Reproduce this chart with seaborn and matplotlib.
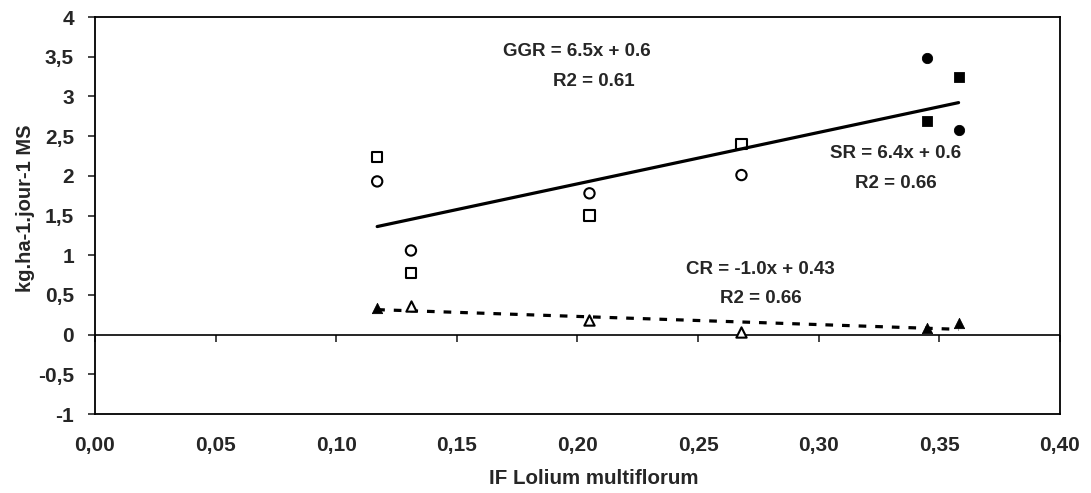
import numpy as np
import pandas as pd
import seaborn as sns
import matplotlib
matplotlib.use('Agg')
import matplotlib.pyplot as plt

sns.set_style("white")
plt.rcParams['font.family'] = ['Liberation Sans', 'DejaVu Sans']
plt.rcParams['font.weight'] = 'bold'

# points
sq_open_x = [0.117, 0.131, 0.205, 0.268]
sq_open_y = [2.24, 0.78, 1.50, 2.40]
circ_open_x = [0.117, 0.131, 0.205, 0.268]
circ_open_y = [1.93, 1.06, 1.78, 2.01]
sq_full_x = [0.345, 0.358]
sq_full_y = [2.69, 3.24]
circ_full_x = [0.345, 0.358]
circ_full_y = [3.48, 2.58]
tri_full_x = [0.117, 0.345, 0.358]
tri_full_y = [0.33, 0.09, 0.15]
tri_open_x = [0.131, 0.205, 0.268]
tri_open_y = [0.36, 0.19, 0.03]

xticks = [0.00, 0.05, 0.10, 0.15, 0.20, 0.25, 0.30, 0.35, 0.40]
xtick_labels = ['0,00', '0,05', '0,10', '0,15', '0,20', '0,25', '0,30', '0,35', '0,40']
yticks = [-1, -0.5, 0, 0.5, 1, 1.5, 2, 2.5, 3, 3.5, 4]
ytick_labels = ['-1', '-0,5', '0', '0,5', '1', '1,5', '2', '2,5', '3', '3,5', '4']

# equation texts: (text, x, y)
annotations = [
    ('GGR = 6.5x + 0.6', 0.1996, 3.57),
    ('R2 = 0.61', 0.207, 3.19),
    ('SR = 6.4x + 0.6', 0.332, 2.28),
    ('R2 = 0.66', 0.332, 1.90),
    ('CR = -1.0x + 0.43', 0.276, 0.82),
    ('R2 = 0.66', 0.276, 0.456),
]

fig = plt.figure(figsize=(10.91, 4.93), dpi=100)
ax = fig.add_axes([0.087, 0.160, 0.8845, 0.8055])

# regression lines
top = pd.DataFrame({'x': sq_open_x + circ_open_x + sq_full_x + circ_full_x,
                    'y': sq_open_y + circ_open_y + sq_full_y + circ_full_y})
low = pd.DataFrame({'x': tri_full_x + tri_open_x, 'y': tri_full_y + tri_open_y})
sns.regplot(data=top, x='x', y='y', scatter=False, ci=None, color='black',
            line_kws=dict(lw=2.3), ax=ax)
sns.regplot(data=low, x='x', y='y', scatter=False, ci=None, color='black',
            line_kws=dict(lw=2.3, ls=(0, (2.4, 2.8))), ax=ax)

ax.axhline(0, color='black', lw=1.2, zorder=1)

ms = 55
sns.scatterplot(x=sq_open_x, y=sq_open_y, marker='s', s=ms, fc='none', ec='black', linewidth=1.5, ax=ax, zorder=3)
sns.scatterplot(x=circ_open_x, y=circ_open_y, marker='o', s=ms, fc='none', ec='black', linewidth=1.5, ax=ax, zorder=3)
sns.scatterplot(x=sq_full_x, y=sq_full_y, marker='s', s=ms, color='black', ec='black', ax=ax, zorder=3)
sns.scatterplot(x=circ_full_x, y=circ_full_y, marker='o', s=ms, color='black', ec='black', ax=ax, zorder=3)
sns.scatterplot(x=tri_full_x, y=tri_full_y, marker='^', s=ms, color='black', ec='black', ax=ax, zorder=3)
sns.scatterplot(x=tri_open_x, y=tri_open_y, marker='^', s=ms, fc='white', ec='black', linewidth=1.5, ax=ax, zorder=3)

for txt, tx, ty in annotations:
    ax.text(tx, ty, txt, ha='center', va='center', fontsize=13.5, fontweight='bold')

ax.set_xlim(0, 0.40)
ax.set_ylim(-1, 4)
ax.set_yticks(yticks)
ax.set_yticklabels(ytick_labels)
ax.set_xticks(xticks)
ax.set_xticklabels(xtick_labels)
ax.tick_params(axis='x', length=0, pad=16, labelsize=15)
ax.tick_params(axis='y', direction='out', length=5, width=1.2, left=True, labelsize=15, pad=10)

# tick marks on the zero line
sec = ax.secondary_xaxis(0.2)
sec.set_xticks(xticks)
sec.tick_params(direction='out', length=5, width=1.2, labelbottom=False)
sec.spines['bottom'].set_visible(False)

for s in ax.spines.values():
    s.set_visible(True)
    s.set_color('black')
    s.set_linewidth(1.3)

ax.set_xlabel('IF Lolium multiflorum', fontsize=14.8, fontweight='bold')
ax.set_ylabel('kg.ha-1.jour-1 MS', fontsize=14.5, fontweight='bold')
ax.xaxis.set_label_coords(0.517, -0.1385)
ax.yaxis.set_label_coords(-0.062, 0.519)

fig.savefig('out.png', dpi=100)
